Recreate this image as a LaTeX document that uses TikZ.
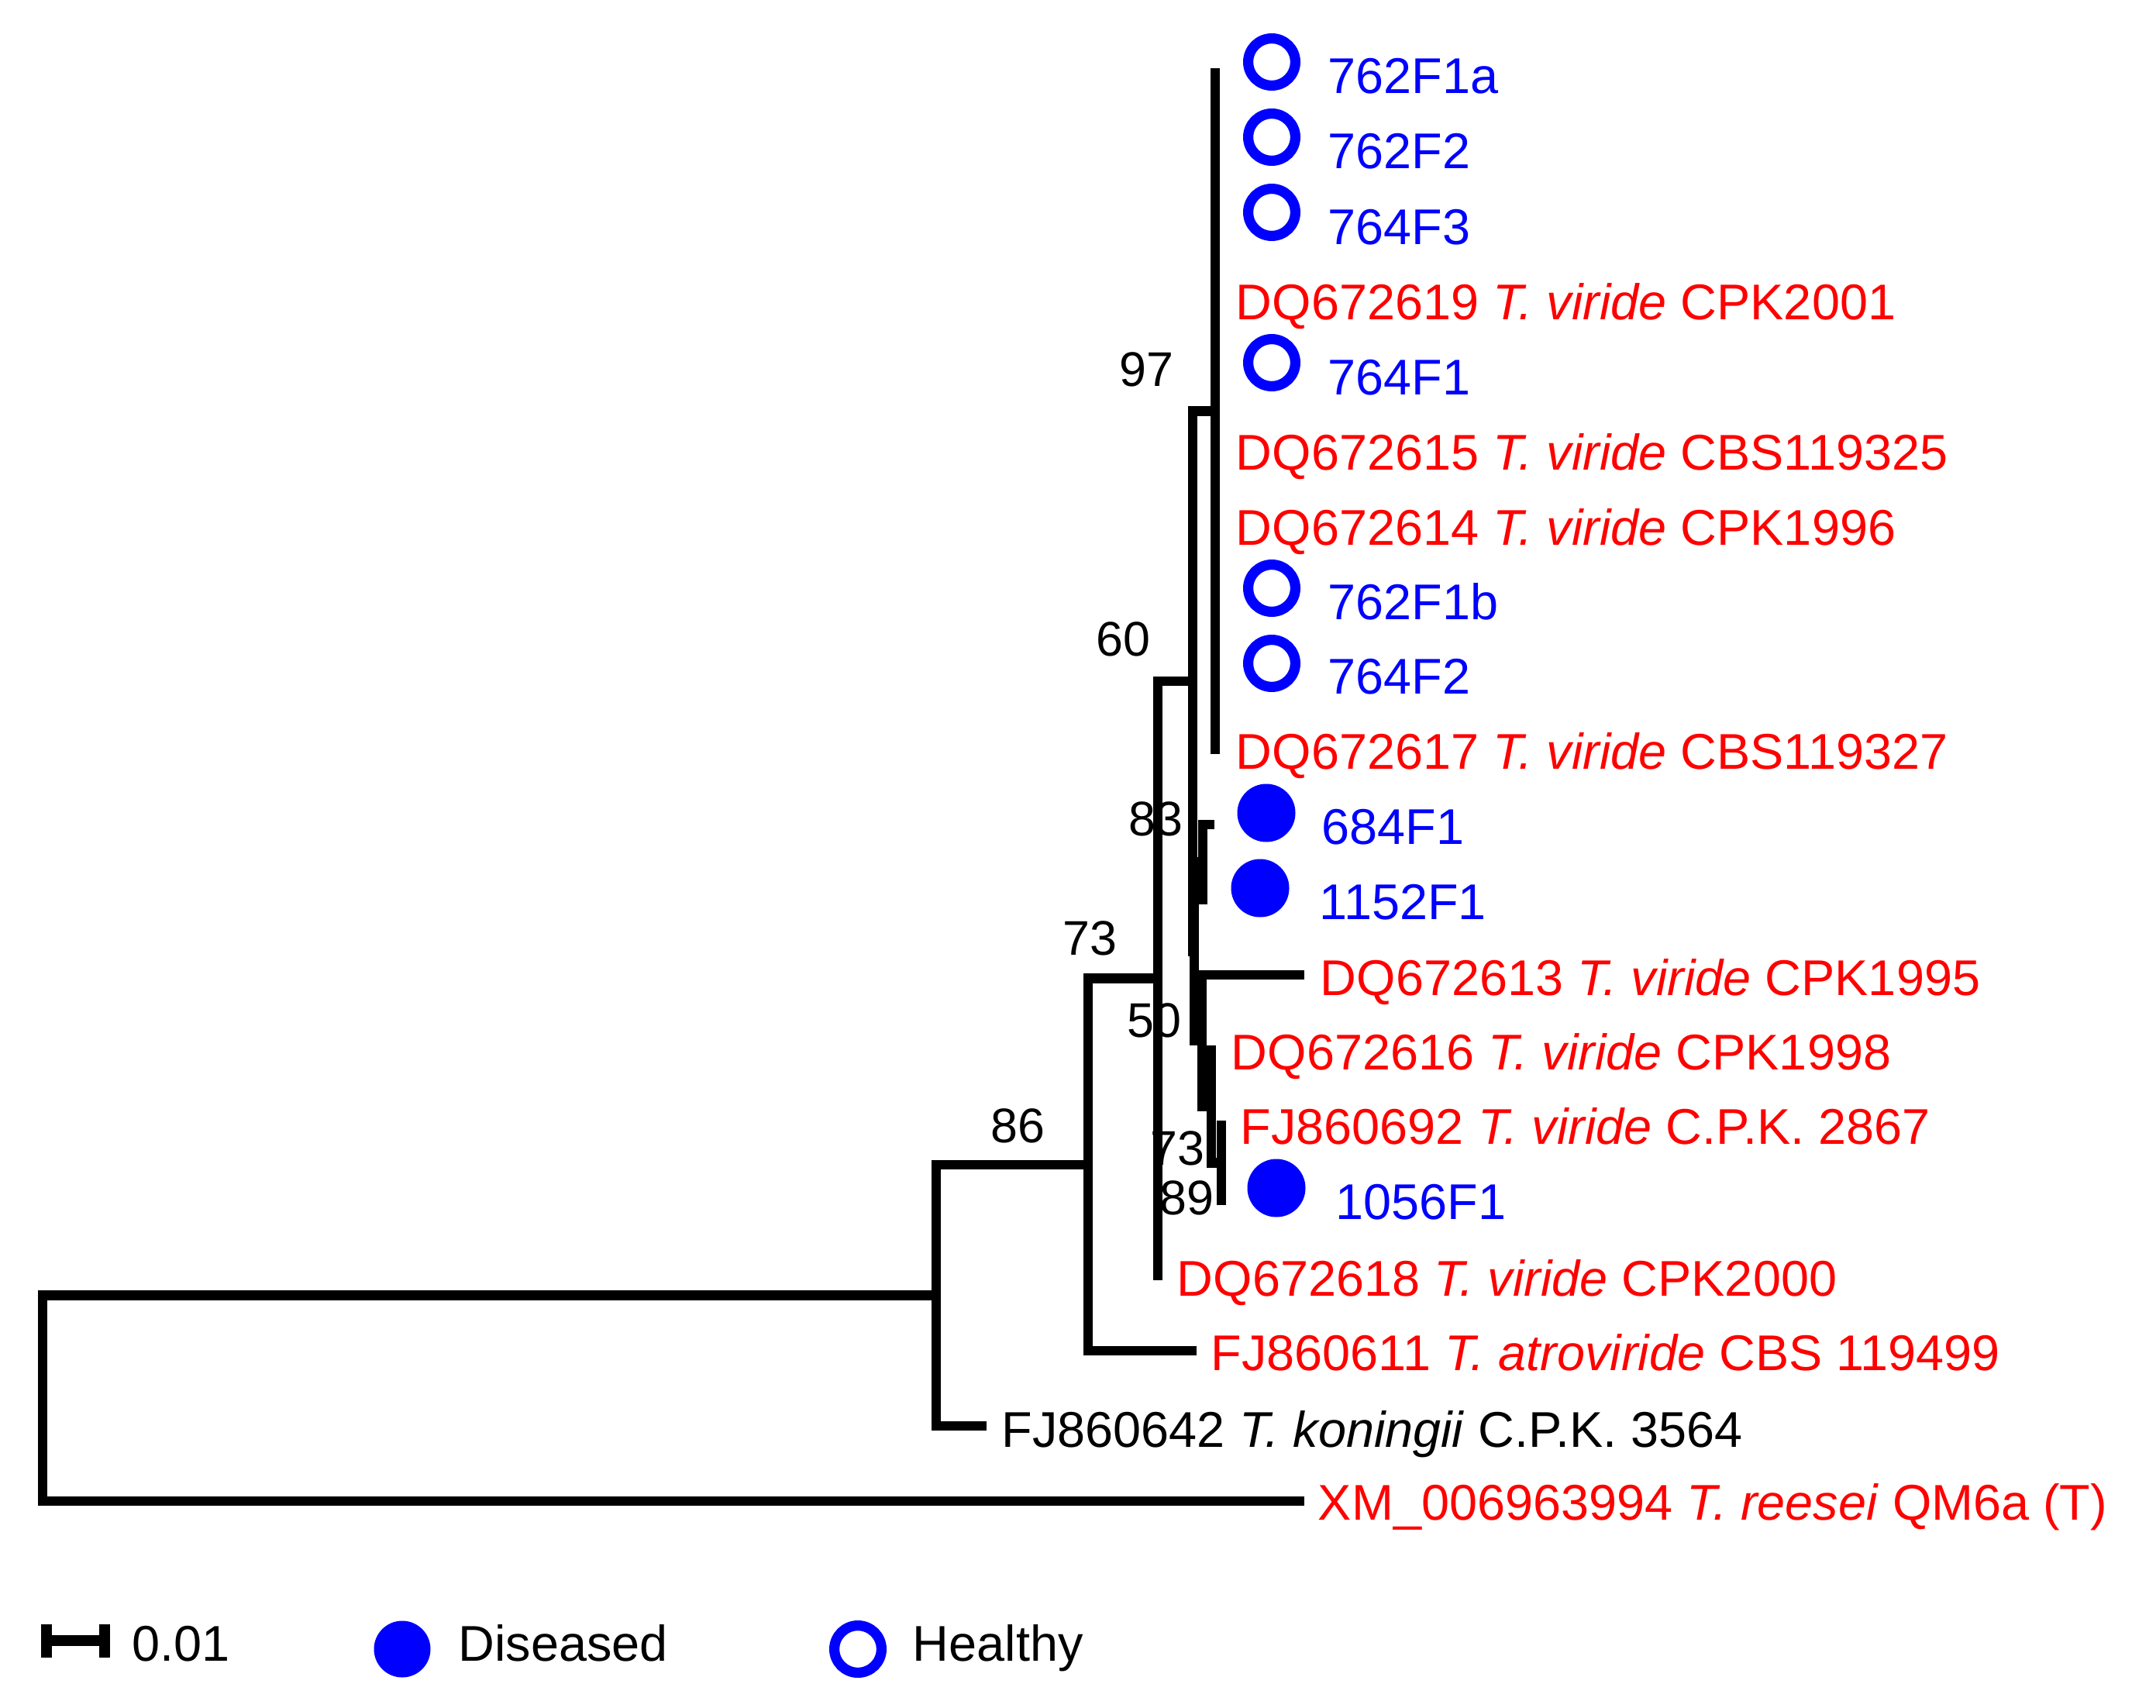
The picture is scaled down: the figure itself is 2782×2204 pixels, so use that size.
\documentclass[tikz,border=0pt]{standalone}
\usepackage{fontspec}
\setmainfont{Liberation Sans}
\definecolor{tblue}{RGB}{0,0,255}
\definecolor{tred}{RGB}{255,0,0}
\begin{document}
\begin{tikzpicture}[x=0.25pt,y=-0.25pt,
  br/.style={line width=3.1pt, line cap=rect, line join=miter},
  lab/.style={anchor=base west, inner sep=0pt, font=\fontsize{16.2}{19}\selectfont},
  boot/.style={anchor=base east, inner sep=0pt, font=\fontsize{15.7}{18}\selectfont},
  hmark/.style={circle, draw=tblue, line width=3.3pt, minimum size=15.2pt, inner sep=0pt},
  dmark/.style={circle, fill=tblue, minimum size=18.75pt, inner sep=0pt},
]
\useasboundingbox (0,0) rectangle (2782,2204);

% bootstrap values
\node[boot] (b97) at (1515,498) {97};
\node[boot] (b60) at (1485,846) {60};
\node[boot] (b83) at (1527,1078) {83};
\node[boot] (b73a) at (1442,1232) {73};
\node[boot] (b86) at (1349,1474) {86};
\node[boot] (b50) at (1525,1338) {50};
\node[boot] (b73b) at (1555,1503) {73};
\node[boot] (b89) at (1567,1567) {89};

% internal nodes
\coordinate (root) at (55,1804);
\coordinate (n86) at (1208,1671.4);
\coordinate (n73) at (1404,1502.8);
\coordinate (nA) at (1494,1262.5);
\coordinate (nB) at (1539,879.1);
\coordinate (n97) at (1568,530.5);
\coordinate (nG) at (1541,1227.7);
\coordinate (n83) at (1552,1112.5);
\coordinate (nC) at (1551,1342.9);
\coordinate (nD) at (1563,1427.75);
\coordinate (nE) at (1576,1500.5);

% leaf ends
\coordinate (l1) at (1568,94);
\coordinate (l2) at (1568,191);
\coordinate (l3) at (1568,288);
\coordinate (l4) at (1568,385);
\coordinate (l5) at (1568,482);
\coordinate (l6) at (1568,579);
\coordinate (l7) at (1568,676);
\coordinate (l8) at (1568,773);
\coordinate (l9) at (1568,870);
\coordinate (l10) at (1568,967);
\coordinate (l11) at (1561,1064);
\coordinate (l12) at (1552,1161);
\coordinate (l13) at (1677,1258);
\coordinate (l14) at (1563,1355);
\coordinate (l15) at (1576,1452);
\coordinate (l16) at (1576,1549);
\coordinate (l17) at (1494,1646);
\coordinate (l18) at (1538,1743);
\coordinate (l19) at (1267,1840);
\coordinate (l20) at (1677,1937);

% branches
\draw[br] (root) |- (n86);
\draw[br] (root) |- (l20);
\draw[br] (n86) |- (n73);
\draw[br] (n86) |- (l19);
\draw[br] (n73) |- (nA);
\draw[br] (n73) |- (l18);
\draw[br] (nA) |- (nB);
\draw[br] (nA) |- (l17);
\draw[br] (nB) |- (n97);
\draw[br] (nB) |- (nG);
\foreach \i in {1,...,10} { \draw[br] (n97) |- (l\i); }
\draw[br] (nG) |- (n83);
\draw[br] (nG) |- (nC);
\draw[br] (n83) |- (l11);
\draw[br] (n83) |- (l12);
\draw[br] (nC) |- (l13);
\draw[br] (nC) |- (nD);
\draw[br] (nD) |- (l14);
\draw[br] (nD) |- (nE);
\draw[br] (nE) |- (l15);
\draw[br] (nE) |- (l16);

% markers
\node[hmark] (m1) at (1641,80) {};
\node[hmark] (m2) at (1641,177) {};
\node[hmark] (m3) at (1641,274) {};
\node[hmark] (m5) at (1641,468) {};
\node[hmark] (m8) at (1641,759) {};
\node[hmark] (m9) at (1641,856) {};
\node[dmark] (m11) at (1634,1049) {};
\node[dmark] (m12) at (1626,1146) {};
\node[dmark] (m16) at (1647,1533) {};

% leaf labels
\node[lab, text=tblue] (t1) at (1713,121) {762F1a};
\node[lab, text=tblue] (t2) at (1713,218) {762F2};
\node[lab, text=tblue] (t3) at (1713,315) {764F3};
\node[lab, text=tred] (t4) at (1594,412) {DQ672619 \textit{T. viride} CPK2001};
\node[lab, text=tblue] (t5) at (1713,509) {764F1};
\node[lab, text=tred] (t6) at (1594,606) {DQ672615 \textit{T. viride} CBS119325};
\node[lab, text=tred] (t7) at (1594,703) {DQ672614 \textit{T. viride} CPK1996};
\node[lab, text=tblue] (t8) at (1713,799) {762F1b};
\node[lab, text=tblue] (t9) at (1713,895) {764F2};
\node[lab, text=tred] (t10) at (1594,992) {DQ672617 \textit{T. viride} CBS119327};
\node[lab, text=tblue] (t11) at (1705,1089) {684F1};
\node[lab, text=tblue] (t12) at (1702,1186) {1152F1};
\node[lab, text=tred] (t13) at (1703,1284) {DQ672613 \textit{T. viride} CPK1995};
\node[lab, text=tred] (t14) at (1588,1380) {DQ672616 \textit{T. viride} CPK1998};
\node[lab, text=tred] (t15) at (1600,1476) {FJ860692 \textit{T. viride} C.P.K. 2867};
\node[lab, text=tblue] (t16) at (1723,1573) {1056F1};
\node[lab, text=tred] (t17) at (1518,1672) {DQ672618 \textit{T. viride} CPK2000};
\node[lab, text=tred] (t18) at (1562,1768) {FJ860611 \textit{T. atroviride} CBS 119499};
\node[lab] (t19) at (1292,1867) {FJ860642 \textit{T. koningii} C.P.K. 3564};
\node[lab, text=tred] (t20) at (1700,1961) {XM\_006963994 \textit{T. reesei} QM6a (T)};

% legend
\coordinate (sbl) at (60,2117);
\coordinate (sbr) at (135,2117);
\draw[line width=3.6pt] (sbl) -- (sbr);
\draw[line width=3.5pt] ([yshift=-21.5*0.25pt]sbl) -- ([yshift=21.5*0.25pt]sbl);
\draw[line width=3.5pt] ([yshift=-21.5*0.25pt]sbr) -- ([yshift=21.5*0.25pt]sbr);
\node[lab] (scl) at (170,2143) {0.01};
\node[dmark, minimum size=18.25pt] (ld) at (519,2128) {};
\node[lab] (ldt) at (591,2143) {Diseased};
\node[hmark] (lh) at (1107,2128) {};
\node[lab] (lht) at (1177,2143) {Healthy};
\end{tikzpicture}
\end{document}
